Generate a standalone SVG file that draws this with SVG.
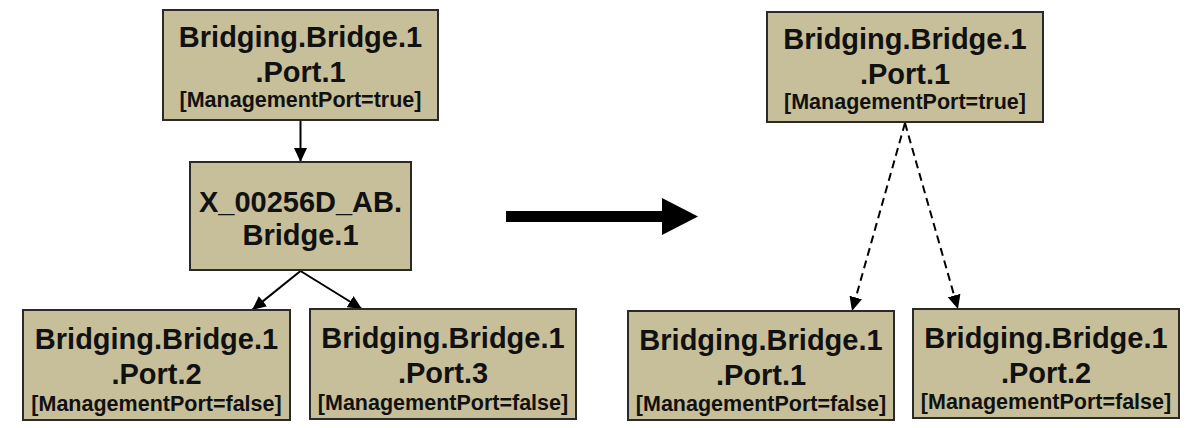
<svg xmlns="http://www.w3.org/2000/svg" width="1192" height="428" viewBox="0 0 1192 428">
<style>
.box{fill:#c7bf99;stroke:#2a2a2a;stroke-width:2}
.t{font-family:"Liberation Sans",Arial,sans-serif;font-weight:bold;fill:#111;text-anchor:middle}
.big{font-size:29px}
.sm{font-size:21.5px}
.c{stroke:#000;stroke-width:2;fill:none}
.d{stroke-dasharray:8 5}
</style>
<defs>
<marker id="ah" markerUnits="userSpaceOnUse" markerWidth="15" markerHeight="13" refX="14" refY="6.5" orient="auto">
<path d="M0,0 L14,6.5 L0,13 Z" fill="#000"/>
</marker>
</defs>
<rect width="1192" height="428" fill="#fff"/>
<g id="connectors">
<line class="c" x1="300.5" y1="121" x2="300.5" y2="162" marker-end="url(#ah)"/>
<line class="c" x1="300.5" y1="271" x2="252" y2="310" marker-end="url(#ah)"/>
<line class="c" x1="300.5" y1="271" x2="362" y2="309" marker-end="url(#ah)"/>
<line class="c d" x1="905" y1="123" x2="852" y2="311" marker-end="url(#ah)"/>
<line class="c d" x1="905" y1="123" x2="958" y2="309" marker-end="url(#ah)"/>
<polygon points="506,211 662,211 662,198 698,216.5 662,235 662,222 506,222" fill="#000"/>
</g>
<g id="nodeA">
<rect class="box" x="163" y="10" width="275" height="110"/>
<text class="t big" x="300.5" y="47">Bridging.Bridge.1</text>
<text class="t big" x="300.5" y="82">.Port.1</text>
<text class="t sm" x="300.5" y="107">[ManagementPort=true]</text>
</g>
<g id="nodeB">
<rect class="box" x="190" y="162" width="221" height="108"/>
<text class="t big" x="300.5" y="212">X_00256D_AB.</text>
<text class="t big" x="300.5" y="245">Bridge.1</text>
</g>
<g id="nodeC">
<rect class="box" x="23" y="310" width="267" height="110"/>
<text class="t big" x="156.5" y="349">Bridging.Bridge.1</text>
<text class="t big" x="156.5" y="384">.Port.2</text>
<text class="t sm" x="156.5" y="411">[ManagementPort=false]</text>
</g>
<g id="nodeD">
<rect class="box" x="310" y="309" width="266" height="110"/>
<text class="t big" x="443" y="348">Bridging.Bridge.1</text>
<text class="t big" x="443" y="383">.Port.3</text>
<text class="t sm" x="443" y="410">[ManagementPort=false]</text>
</g>
<g id="nodeE">
<rect class="box" x="767" y="12" width="276" height="110"/>
<text class="t big" x="905" y="49">Bridging.Bridge.1</text>
<text class="t big" x="905" y="84">.Port.1</text>
<text class="t sm" x="905" y="109">[ManagementPort=true]</text>
</g>
<g id="nodeF">
<rect class="box" x="628" y="311" width="266" height="109"/>
<text class="t big" x="761" y="350">Bridging.Bridge.1</text>
<text class="t big" x="761" y="385">.Port.1</text>
<text class="t sm" x="761" y="411">[ManagementPort=false]</text>
</g>
<g id="nodeG">
<rect class="box" x="913" y="309" width="266" height="109"/>
<text class="t big" x="1046" y="348">Bridging.Bridge.1</text>
<text class="t big" x="1046" y="383">.Port.2</text>
<text class="t sm" x="1046" y="409">[ManagementPort=false]</text>
</g>
</svg>
